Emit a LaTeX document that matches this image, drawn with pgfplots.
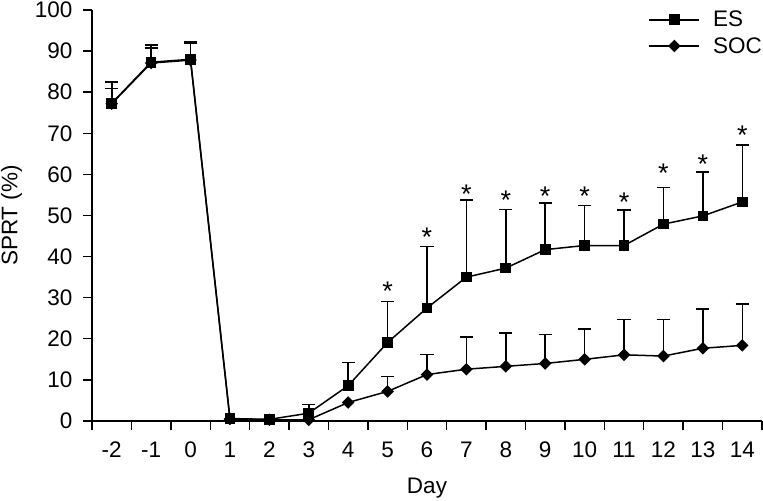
\documentclass[border=0pt]{standalone}
\usepackage{pgfplots}
\usepackage{pgfplotstable}
\pgfplotsset{compat=1.18}
\usepackage{fontspec}
\setmainfont{Liberation Sans}

% day index: day d -> d+2
\pgfplotstableread{
x y
0 77.3
1 87.3
2 88.0
3 0.6
4 0.4
5 1.9
6 8.6
7 19.1
8 27.5
9 35.0
10 37.2
11 41.7
12 42.7
13 42.7
14 47.9
15 49.9
16 53.3
}\esdata
\pgfplotstableread{
x y up
0 77.3 82.5
1 87.3 91.5
2 88.0 92.3
5 1.9 4.0
6 8.6 14.2
7 19.1 29.1
8 27.5 42.5
9 35.0 53.7
10 37.2 51.5
11 41.7 53.0
12 42.7 52.4
13 42.7 51.3
14 47.9 56.8
15 49.9 60.6
16 53.3 67.2
}\eserr
% positions of the significance stars (centre of the star)
\pgfplotstableread{
x s
7 33.2
8 46.3
9 56.6
10 55.2
11 56.3
12 56.2
13 54.7
14 61.7
15 64.0
16 71.0
}\stars
\pgfplotstableread{
x y
0 77.2
1 87.1
2 87.8
3 0.5
4 0.3
5 0.3
6 4.5
7 7.2
8 11.3
9 12.6
10 13.3
11 14.0
12 15.0
13 16.1
14 15.8
15 17.7
16 18.4
}\socdata
\pgfplotstableread{
x y up
0 77.2 80.9
1 87.1 90.8
2 87.8 92.0
7 7.2 10.8
8 11.3 16.2
9 12.6 20.4
10 13.3 21.4
11 14.0 21.0
12 15.0 22.4
13 16.1 24.7
14 15.8 24.7
15 17.7 27.2
16 18.4 28.4
}\socerr

\begin{document}
\begin{tikzpicture}[font=\fontsize{22.5bp}{27bp}\selectfont]
\begin{axis}[
  name=ax,
  scale only axis,
  width=670bp, height=411bp,
  xmin=-0.5, xmax=16.5, ymin=0, ymax=100,
  axis x line=bottom, axis y line=left,
  axis line style={-, line width=1.4bp, black},
  tick align=outside,
  major tick length=9bp, minor tick length=9bp,
  every tick/.style={line width=1.4bp, black},
  xtick={0,...,16},
  xticklabels={-2,-1,0,1,2,3,4,5,6,7,8,9,10,11,12,13,14},
  major x tick style={draw=none},
  minor xtick={-0.5,0.5,...,16.5},
  ytick={0,10,...,100},
  yticklabels={0,10,20,30,40,50,60,70,80,90,100},
  x tick label style={font=\fontsize{22.5bp}{27bp}\selectfont, anchor=north, inner sep=0bp, yshift=-11.7bp},
  y tick label style={font=\fontsize{22.5bp}{27bp}\selectfont, anchor=east, inner sep=0bp, xshift=-10.3bp},
  xlabel={Day},
  xlabel style={font=\fontsize{22.5bp}{27bp}\selectfont, at={(axis description cs:0.5,0)}, anchor=base, yshift=-72bp},
  legend style={draw=none, fill=none, at={(1,1)}, anchor=north east, yshift=-1bp,
    inner sep=0pt, row sep=9bp, column sep=13bp, font=\fontsize{22.5bp}{27bp}\selectfont,
    nodes={inner sep=0bp}},
  legend cell align=left,
  legend image code/.code={\draw[mark repeat=2,mark phase=2,#1] plot coordinates {(0bp,0bp) (25bp,0bp) (50bp,0bp)};},
  clip=false,
]
% error bars (only where visible)
\addplot[draw=none, mark=none, forget plot,
  error bars/.cd, y dir=plus, y explicit,
  error mark=-, error bar style={line width=1.6bp, black},
  error mark options={rotate=90, mark size=6.6bp, line width=1.6bp, black}]
  table[x=x, y=y, y error expr=\thisrow{up}-\thisrow{y}] {\socerr};
\addplot[draw=none, mark=none, forget plot,
  error bars/.cd, y dir=plus, y explicit,
  error mark=-, error bar style={line width=1.6bp, black},
  error mark options={rotate=90, mark size=6.6bp, line width=1.6bp, black}]
  table[x=x, y=y, y error expr=\thisrow{up}-\thisrow{y}] {\eserr};
% lines
\addplot[black, line width=1.5bp, mark=square*, mark size=4.6bp, mark options={solid, fill=black}] table[x=x,y=y] {\esdata};
\addlegendentry{ES}
\addplot[black, line width=1.5bp, mark=square*, mark size=3.7bp, mark options={solid, fill=black, rotate=45}] table[x=x,y=y] {\socdata};
\addlegendentry{SOC}
% significance stars (glyph centre at the given value)
\addplot[draw=none, mark=none, forget plot, nodes near coords={*},
  every node near coord/.style={anchor=base, inner sep=0bp, yshift=-15.5bp, font=\fontsize{27bp}{30bp}\selectfont}]
  table[x=x, y=s] {\stars};
\end{axis}
\node[rotate=90, anchor=center, inner sep=0bp, font=\fontsize{22.5bp}{27bp}\selectfont] at ([xshift=-80.5bp]ax.west) {SPRT (\%)};
\pgfresetboundingbox
\path ([xshift=-92bp,yshift=-80bp]ax.south west) rectangle ([xshift=1bp,yshift=10bp]ax.north east);
\end{tikzpicture}
\end{document}
